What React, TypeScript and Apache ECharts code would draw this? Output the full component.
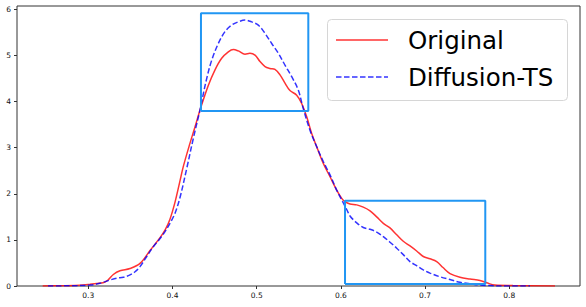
import React, { useEffect, useRef } from "react";
import * as echarts from "echarts";

const origX = [0.2458, 0.2664, 0.2842, 0.302, 0.3175, 0.3234, 0.3297, 0.3376, 0.3495, 0.3614, 0.3733, 0.3852, 0.3911, 0.397, 0.403, 0.4089, 0.4128, 0.4208, 0.4267, 0.4327, 0.4425, 0.4505, 0.4584, 0.4663, 0.4722, 0.4781, 0.4861, 0.492, 0.498, 0.5039, 0.5099, 0.5158, 0.5217, 0.5277, 0.5336, 0.5395, 0.5475, 0.5534, 0.5594, 0.5653, 0.5713, 0.5791, 0.5871, 0.595, 0.601, 0.6049, 0.6108, 0.6188, 0.6266, 0.6346, 0.6425, 0.6504, 0.6583, 0.6663, 0.6741, 0.6821, 0.69, 0.6979, 0.7058, 0.7138, 0.7213, 0.7296, 0.7414, 0.7533, 0.7652, 0.7732, 0.783, 0.8044, 0.8543];
const origY = [0, 0.005, 0.01, 0.04, 0.07, 0.13, 0.25, 0.33, 0.38, 0.49, 0.77, 1.05, 1.21, 1.45, 1.82, 2.28, 2.59, 3.1, 3.45, 3.82, 4.35, 4.69, 4.94, 5.08, 5.13, 5.1, 5.03, 5.05, 5.01, 4.87, 4.76, 4.72, 4.7, 4.58, 4.4, 4.24, 4.14, 3.96, 3.67, 3.31, 3.02, 2.66, 2.37, 2.08, 1.9, 1.83, 1.78, 1.76, 1.71, 1.63, 1.5, 1.36, 1.26, 1.11, 0.97, 0.87, 0.76, 0.64, 0.59, 0.53, 0.4, 0.27, 0.19, 0.15, 0.12, 0.07, 0.02, 0.01, 0];

const diffX = [0.2521, 0.2783, 0.302, 0.3139, 0.3258, 0.3337, 0.3416, 0.3495, 0.3555, 0.3614, 0.3694, 0.3772, 0.3852, 0.3911, 0.397, 0.403, 0.4089, 0.4169, 0.4247, 0.4327, 0.4347, 0.4406, 0.4466, 0.4544, 0.4624, 0.4703, 0.4781, 0.4861, 0.4941, 0.5019, 0.5099, 0.5178, 0.5257, 0.5336, 0.5416, 0.5494, 0.5553, 0.5633, 0.5713, 0.5791, 0.5871, 0.595, 0.6029, 0.6069, 0.6108, 0.6188, 0.6266, 0.6346, 0.6425, 0.6504, 0.6583, 0.6663, 0.6741, 0.6821, 0.69, 0.6979, 0.7058, 0.7177, 0.7296, 0.7414, 0.7533, 0.7652, 0.7771, 0.789, 0.8246];
const diffY = [0, 0.005, 0.02, 0.06, 0.13, 0.17, 0.19, 0.24, 0.31, 0.42, 0.64, 0.85, 1.03, 1.18, 1.36, 1.58, 1.92, 2.55, 3.2, 3.82, 4.0, 4.5, 4.9, 5.26, 5.52, 5.66, 5.73, 5.77, 5.73, 5.66, 5.48, 5.26, 5.05, 4.79, 4.54, 4.25, 3.85, 3.38, 3.02, 2.7, 2.41, 2.08, 1.8, 1.66, 1.52, 1.37, 1.27, 1.23, 1.17, 1.07, 0.95, 0.82, 0.68, 0.53, 0.44, 0.35, 0.28, 0.2, 0.14, 0.08, 0.05, 0.02, 0.01, 0, 0];

// highlight boxes: [xMin, xMax, yMin, yMax]
const box1 = [0.4338, 0.5613, 3.796, 5.915];
const box2 = [0.6049, 0.7715, 0.043, 1.85];

const xTicks = [0.3, 0.4, 0.5, 0.6, 0.7, 0.8];
const yTicks = [0, 1, 2, 3, 4, 5, 6];
const xRange = [0.2153, 0.884];
const yRange = [0, 6.074];

const seriesNames = ["Original", "Diffusion-TS"];

const zip = (xs: number[], ys: number[]) => xs.map((x, i) => [x, ys[i]]);
const boxPts = (b: number[]) => [
  [b[0], b[2]],
  [b[1], b[2]],
  [b[1], b[3]],
  [b[0], b[3]],
  [b[0], b[2]],
];

const RED = "rgba(255,0,0,0.8)";
const BLUE = "rgba(0,0,255,0.8)";
const BOX = "#2196f3";
const FONT = "DejaVu Sans";

export default function App() {
  const ref = useRef<HTMLDivElement>(null);
  useEffect(() => {
    if (!ref.current) return;
    const chart = echarts.init(ref.current, null, { renderer: "svg" });
    const near = (v: number, arr: number[]) => arr.some((t) => Math.abs(t - v) < 1e-6);
    chart.setOption({
      animation: false,
      backgroundColor: "#fff",
      grid: {
        left: 17,
        top: 6,
        right: 6,
        bottom: 21,
        show: true,
        borderColor: "#333",
        borderWidth: 1,
        backgroundColor: "transparent",
      },
      xAxis: {
        type: "value",
        min: xRange[0],
        max: xRange[1],
        splitLine: { show: false },
        axisLine: { show: false },
        axisTick: { show: true, length: 3, lineStyle: { color: "#333" }, customValues: xTicks },
        axisLabel: {
          customValues: xTicks,
          fontFamily: FONT,
          fontSize: 7.5,
          color: "#111",
          margin: 5,
          formatter: (v: number) => (near(v, xTicks) ? v.toFixed(1) : ""),
        },
      },
      yAxis: {
        type: "value",
        min: yRange[0],
        max: yRange[1],
        splitLine: { show: false },
        axisLine: { show: false },
        axisTick: { show: true, length: 3, lineStyle: { color: "#333" }, customValues: yTicks },
        axisLabel: {
          customValues: yTicks,
          fontFamily: FONT,
          fontSize: 7.5,
          color: "#111",
          margin: 6,
          formatter: (v: number) => (near(v, yTicks) ? String(Math.round(v)) : ""),
        },
      },
      series: [
        {
          name: seriesNames[0],
          type: "line",
          data: zip(origX, origY),
          showSymbol: false,
          smooth: 0.35,
          lineStyle: { color: RED, width: 1.5 },
          z: 3,
        },
        {
          name: seriesNames[1],
          type: "line",
          data: zip(diffX, diffY),
          showSymbol: false,
          smooth: 0.35,
          lineStyle: { color: BLUE, width: 1.5, type: [5.5, 2.5] },
          z: 4,
        },
        {
          name: "box1",
          type: "line",
          data: boxPts(box1),
          showSymbol: false,
          lineStyle: { color: BOX, width: 2 },
          z: 5,
        },
        {
          name: "box2",
          type: "line",
          data: boxPts(box2),
          showSymbol: false,
          lineStyle: { color: BOX, width: 2 },
          z: 5,
        },
      ],
      graphic: [
        {
          type: "rect",
          shape: { x: 327.5, y: 19.5, width: 240, height: 81, r: 4 },
          style: { fill: "rgba(255,255,255,0.8)", stroke: "#d6d6d6", lineWidth: 1 },
          z: 10,
        },
        {
          type: "line",
          shape: { x1: 336, y1: 40, x2: 388, y2: 40 },
          style: { stroke: RED, lineWidth: 1.5 },
          z: 11,
        },
        {
          type: "line",
          shape: { x1: 336, y1: 77, x2: 388, y2: 77 },
          style: { stroke: BLUE, lineWidth: 1.5, lineDash: [5.5, 2.5] },
          z: 11,
        },
        {
          type: "text",
          x: 408,
          y: 40,
          style: {
            text: seriesNames[0],
            fontFamily: FONT,
            fontSize: 24.5,
            fill: "#000",
            verticalAlign: "middle",
            align: "left",
          },
          z: 11,
        },
        {
          type: "text",
          x: 408,
          y: 77,
          style: {
            text: seriesNames[1],
            fontFamily: FONT,
            fontSize: 24.5,
            fill: "#000",
            verticalAlign: "middle",
            align: "left",
          },
          z: 11,
        },
      ],
    });
    return () => chart.dispose();
  }, []);
  return (
    <div
      ref={ref}
      style={{ position: "fixed", left: 0, top: 0, width: 586, height: 307 }}
    />
  );
}
